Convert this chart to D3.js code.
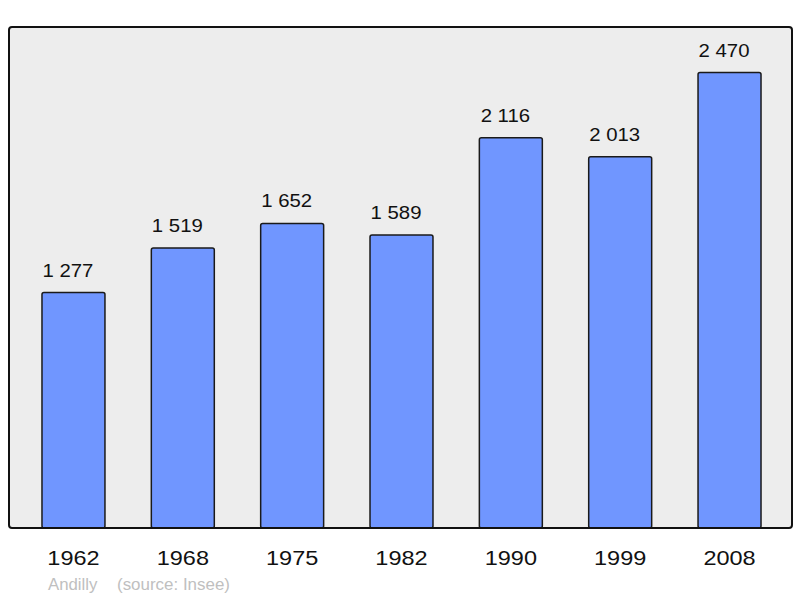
<!DOCTYPE html>
<html>
<head>
<meta charset="utf-8">
<script src="https://cdn.jsdelivr.net/npm/d3@7"></script>
<style>
  body { margin: 0; background: #fff; }
  text { font-family: "Liberation Sans", Arial, sans-serif; }
</style>
</head>
<body>
<svg id="chart"></svg>
<script>
var years = ["1962", "1968", "1975", "1982", "1990", "1999", "2008"];
var population = [1277, 1519, 1652, 1589, 2116, 2013, 2470];
var valueLabels = ["1 277", "1 519", "1 652", "1 589", "2 116", "2 013", "2 470"];

var screen = { width: 800, height: 598 };
var panel = { left: 9, top: 27, right: 792, bottom: 528 };

var svg = d3.select("#chart")
            .attr("width", screen.width)
            .attr("height", screen.height);

var xScale = d3.scaleBand()
               .domain(years)
               .range([18.8, 784.2])
               .paddingInner(0.424)
               .paddingOuter(0.212);

var yScale = d3.scaleLinear()
               .domain([0, 2717])
               .range([panel.bottom, panel.top]);

// background panel
svg.append("rect")
   .attr("x", panel.left)
   .attr("y", panel.top)
   .attr("width", panel.right - panel.left)
   .attr("height", panel.bottom - panel.top)
   .attr("rx", 3)
   .attr("fill", "#ededed")
   .attr("stroke", "none");

// bars
svg.selectAll("rect.bar")
   .data(population)
   .enter()
   .append("rect")
   .attr("class", "bar")
   .attr("x", function(d, i) { return xScale(years[i]); })
   .attr("y", function(d) { return yScale(d); })
   .attr("width", xScale.bandwidth())
   .attr("height", function(d) { return panel.bottom - yScale(d); })
   .attr("rx", 2)
   .attr("fill", "#7096ff")
   .attr("stroke", "#1a1a1a")
   .attr("stroke-width", 1.5);

// value labels (text in the original is a bit wider, so stretch it)
svg.selectAll("text.value")
   .data(population)
   .enter()
   .append("text")
   .attr("class", "value")
   .attr("transform", function(d, i) {
     var x = xScale(years[i]) + xScale.bandwidth() / 2 - 5.5;
     return "translate(" + x + "," + (yScale(d) - 16) + ") scale(1.1,1)";
   })
   .attr("text-anchor", "middle")
   .attr("font-size", 18.5)
   .attr("fill", "#111")
   .text(function(d, i) { return valueLabels[i]; });

// panel border drawn on top
svg.append("rect")
   .attr("x", panel.left)
   .attr("y", panel.top)
   .attr("width", panel.right - panel.left)
   .attr("height", panel.bottom - panel.top)
   .attr("rx", 3)
   .attr("fill", "none")
   .attr("stroke", "#111")
   .attr("stroke-width", 2);

// x axis (labels only)
var xAxis = d3.axisBottom(xScale).tickSize(0).tickPadding(0);
var axisG = svg.append("g")
   .attr("transform", "translate(0," + panel.bottom + ")")
   .call(xAxis);
axisG.select(".domain").remove();
axisG.selectAll("text")
     .attr("dy", null)
     .attr("y", 37)
     .attr("transform", "scale(1.12,1)")
     .attr("font-size", 21)
     .attr("font-family", "Liberation Sans, Arial, sans-serif")
     .attr("fill", "#111");

// footer
svg.append("text")
   .attr("transform", "translate(48,590) scale(1.05,1)")
   .attr("font-size", 16)
   .attr("fill", "#c0c0c0")
   .text("Andilly");
svg.append("text")
   .attr("transform", "translate(117,590) scale(1.06,1)")
   .attr("font-size", 16)
   .attr("fill", "#c0c0c0")
   .text("(source: Insee)");
</script>
</body>
</html>
